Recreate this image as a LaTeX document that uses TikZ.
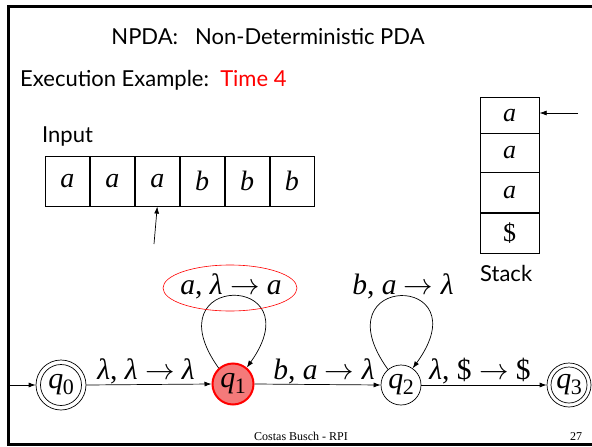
\RequirePackage{fix-cm}
\documentclass[tikz,border=0pt]{standalone}
\usepackage{fontspec}
\setmainfont{Liberation Serif}
\newfontfamily\gillfont{Lato}
\usetikzlibrary{arrows.meta}
\definecolor{qfill}{HTML}{F47A7A}
\newcommand\myarr{\ensuremath{\rightarrow}}
\newcommand\qsub[1]{{\itshape q}\kern-0.5pt\raisebox{-6pt}{\upshape\fontsize{22}{22}\selectfont #1}}
\begin{document}
\begin{tikzpicture}[x=1pt,y=-1pt,
  conn/.style={-{Latex[length=7pt,width=5pt]},line width=0.7pt},
  cell/.style={draw,line width=0.6pt,minimum width=44.3pt,minimum height=50pt,inner sep=0pt,anchor=north west,font=\fontsize{28}{28}\selectfont\itshape},
  scell/.style={draw,line width=0.6pt,minimum width=59.5pt,inner sep=0pt,anchor=north west,font=\fontsize{26}{26}\selectfont\itshape},
  state/.style={circle,draw,line width=0.7pt,inner sep=0pt,font=\fontsize{30}{30}\selectfont},
  elabel/.style={font=\fontsize{29.5}{30}\selectfont,inner sep=0pt},
  sans/.style={font=\gillfont\fontsize{22}{22}\selectfont,inner sep=0pt}]
\useasboundingbox (0,0) rectangle (592,447);
\fill[white] (0,0) rectangle (592,447);
% frame
\draw[line width=2.5pt] (620,6.5) -- (8.5,6.5) -- (8.5,444.5) -- (620,444.5);
% titles
\node[sans,anchor=base] (title) at (268,45) {NPDA:\ \ \ Non-Deterministic PDA};
\node[sans,anchor=base west] (exec) at (20,86) {Execution Example:\ \ \textcolor{red}{Time 4}};
\node[sans,anchor=base west] (inlbl) at (42,142) {Input};
\node[sans,anchor=base west] (stlbl) at (480,281) {Stack};
% input tape
\node[cell] (c1) at (45,156) {a};
\node[cell] (c2) at (c1.north east) {a};
\node[cell] (c3) at (c2.north east) {a};
\node[cell] (c4) at (c3.north east) {b};
\node[cell] (c5) at (c4.north east) {b};
\node[cell] (c6) at (c5.north east) {b};
\coordinate (inhead) at (154,244);
\draw[conn] (inhead) -- (c3.south);
% stack
\node[scell,minimum height=35.5pt] (s1) at (479.5,97) {a};
\node[scell,minimum height=38.5pt] (s2) at (s1.south west) {a};
\node[scell,minimum height=40pt] (s3) at (s2.south west) {a};
\node[scell,minimum height=40pt,font=\fontsize{26}{26}\selectfont] (s4) at (s3.south west) {\$};
\coordinate (sthead) at (578,113);
\draw[conn] (sthead) -- (s1.east |- sthead);
% states
\node[state,minimum size=50pt] (q0) at (61,385) {};
\node[state,minimum size=41pt] (q0i) at (q0) {\qsub{0}};
\node[state,minimum size=41pt,fill=qfill,draw=red,line width=2pt] (q1) at (233,384) {\qsub{1}};
\node[state,minimum size=40pt] (q2) at (401,385) {\qsub{2}};
\node[state,minimum size=44pt] (q3) at (569,385) {};
\node[state,minimum size=36pt] (q3i) at (q3) {\qsub{3}};
\coordinate (start) at (8.5,385);
% edges
\draw[conn] (start) -- (q0.west);
\draw[conn] (q0.east) -- (q1.west);
\draw[conn] (q1.east) -- (q2.west);
\draw[conn] (q2.east) -- (q3.west);
\draw[conn] (q1.132) .. controls (150,272) and (315,272) .. (q1.50);
\draw[conn] (q2.130) .. controls (318,272) and (483,272) .. (q2.55);
% labels
\node[elabel,anchor=base] (l01) at (146,379) {\itshape λ\upshape, \itshape λ\upshape\ \myarr\ \itshape λ};
\node[elabel,anchor=base] (l12) at (324,379) {\itshape b\upshape, \itshape a\upshape\ \myarr\ \itshape λ};
\node[elabel,anchor=base] (l23) at (480,379) {\itshape λ\upshape, \$ \myarr\ \$};
\node[elabel,anchor=base] (l11) at (231,294) {\itshape a\upshape, \itshape λ\upshape\ \myarr\ \itshape a};
\node[elabel,anchor=base] (l22) at (403,294) {\itshape b\upshape, \itshape a\upshape\ \myarr\ \itshape λ};
\draw[red,line width=0.6pt] (230,288) ellipse (67 and 23);
% footer
\node[font=\fontsize{12}{12}\selectfont,anchor=base] (foot) at (301,440) {Costas Busch - RPI};
\node[font=\fontsize{12}{12}\selectfont,anchor=base] (page) at (576,440) {27};
\end{tikzpicture}
\end{document}
